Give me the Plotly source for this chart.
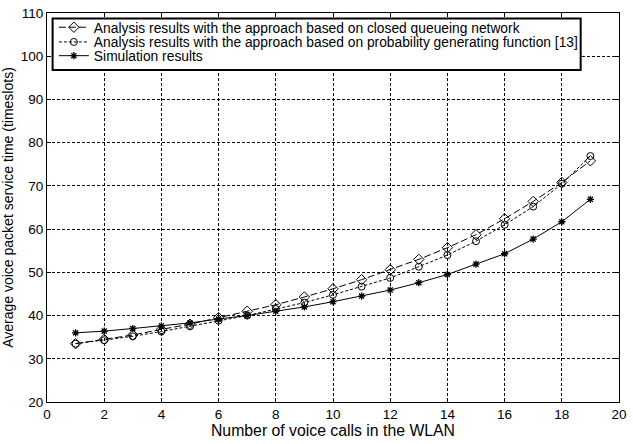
import plotly.graph_objects as go

calls = list(range(1, 20))
closed_qn = [33.5, 34.5, 35.5, 36.8, 38.0, 39.5, 41.0, 42.5, 44.3, 46.2, 48.3, 50.6, 53.0, 55.7, 58.7, 62.4, 66.4, 70.8, 75.8]
pgf = [33.5, 34.3, 35.2, 36.3, 37.5, 38.8, 40.0, 41.5, 43.0, 44.8, 46.7, 48.7, 51.3, 54.0, 57.2, 61.0, 65.2, 70.5, 76.9]
simulation = [36.0, 36.4, 37.0, 37.6, 38.3, 39.2, 40.0, 41.0, 42.0, 43.2, 44.5, 45.9, 47.6, 49.5, 51.9, 54.3, 57.7, 61.7, 66.9]

names = [
    "Analysis results with the approach based on closed queueing network",
    "Analysis results with the approach based on probability generating function [13]",
    "Simulation results",
]

FONT = "Liberation Sans, Arial, sans-serif"

fig = go.Figure()
fig.add_trace(go.Scatter(
    x=calls, y=closed_qn, name=names[0], mode="lines+markers", legend="legend",
    line=dict(color="black", width=1, dash="7px,3px"),
    marker=dict(symbol="diamond-open", size=8, color="black", line=dict(width=1, color="black")),
))
fig.add_trace(go.Scatter(
    x=calls, y=pgf, name=names[1], mode="lines+markers", legend="legend2",
    line=dict(color="black", width=1, dash="3px,2px"),
    marker=dict(symbol="circle-open", size=7, color="black", line=dict(width=1, color="black")),
))
fig.add_trace(go.Scatter(
    x=calls, y=simulation, name=names[2], mode="lines+markers", legend="legend3",
    line=dict(color="black", width=1),
    marker=dict(symbol="asterisk-open", size=6, color="black", line=dict(width=1.3, color="black")),
))

axis_common = dict(
    showline=True, linecolor="black", linewidth=1, mirror="ticks",
    ticks="inside", ticklen=4, tickcolor="black",
    showgrid=True, gridcolor="black", gridwidth=1, griddash="3px,2px",
    zeroline=False, ticklabeloverflow="allow",
    tickfont=dict(family=FONT, size=13.5, color="black"),
)

def leg(ypos):
    return dict(
        x=0.012, y=ypos, xanchor="left", yanchor="middle",
        bgcolor="rgba(0,0,0,0)", borderwidth=0,
        font=dict(family=FONT, size=13.8, color="black"),
        itemwidth=30, tracegroupgap=0,
    )

fig.update_layout(
    width=633, height=444,
    margin=dict(l=47, r=6, t=6, b=42),
    paper_bgcolor="white", plot_bgcolor="white",
    font=dict(family=FONT, size=13, color="black"),
    xaxis=dict(range=[0, 20], dtick=2, tick0=0,
               title=dict(text="Number of voice calls in the WLAN", standoff=1,
                          font=dict(size=15.8)),
               **axis_common),
    yaxis=dict(range=[20, 110], dtick=10, tick0=20,
               title=dict(text="Average voice packet service time (timeslots)", standoff=3,
                          font=dict(size=14)),
               **axis_common),
    legend=leg(0.9634),
    legend2=leg(0.9255),
    legend3=leg(0.8902),
    showlegend=True,
    shapes=[dict(
        type="rect", xref="paper", yref="paper",
        x0=0.0098, x1=0.933, y0=0.8535, y1=0.9856,
        line=dict(color="black", width=2), fillcolor="white", layer="above",
    )],
)

fig.write_html("out.html")
